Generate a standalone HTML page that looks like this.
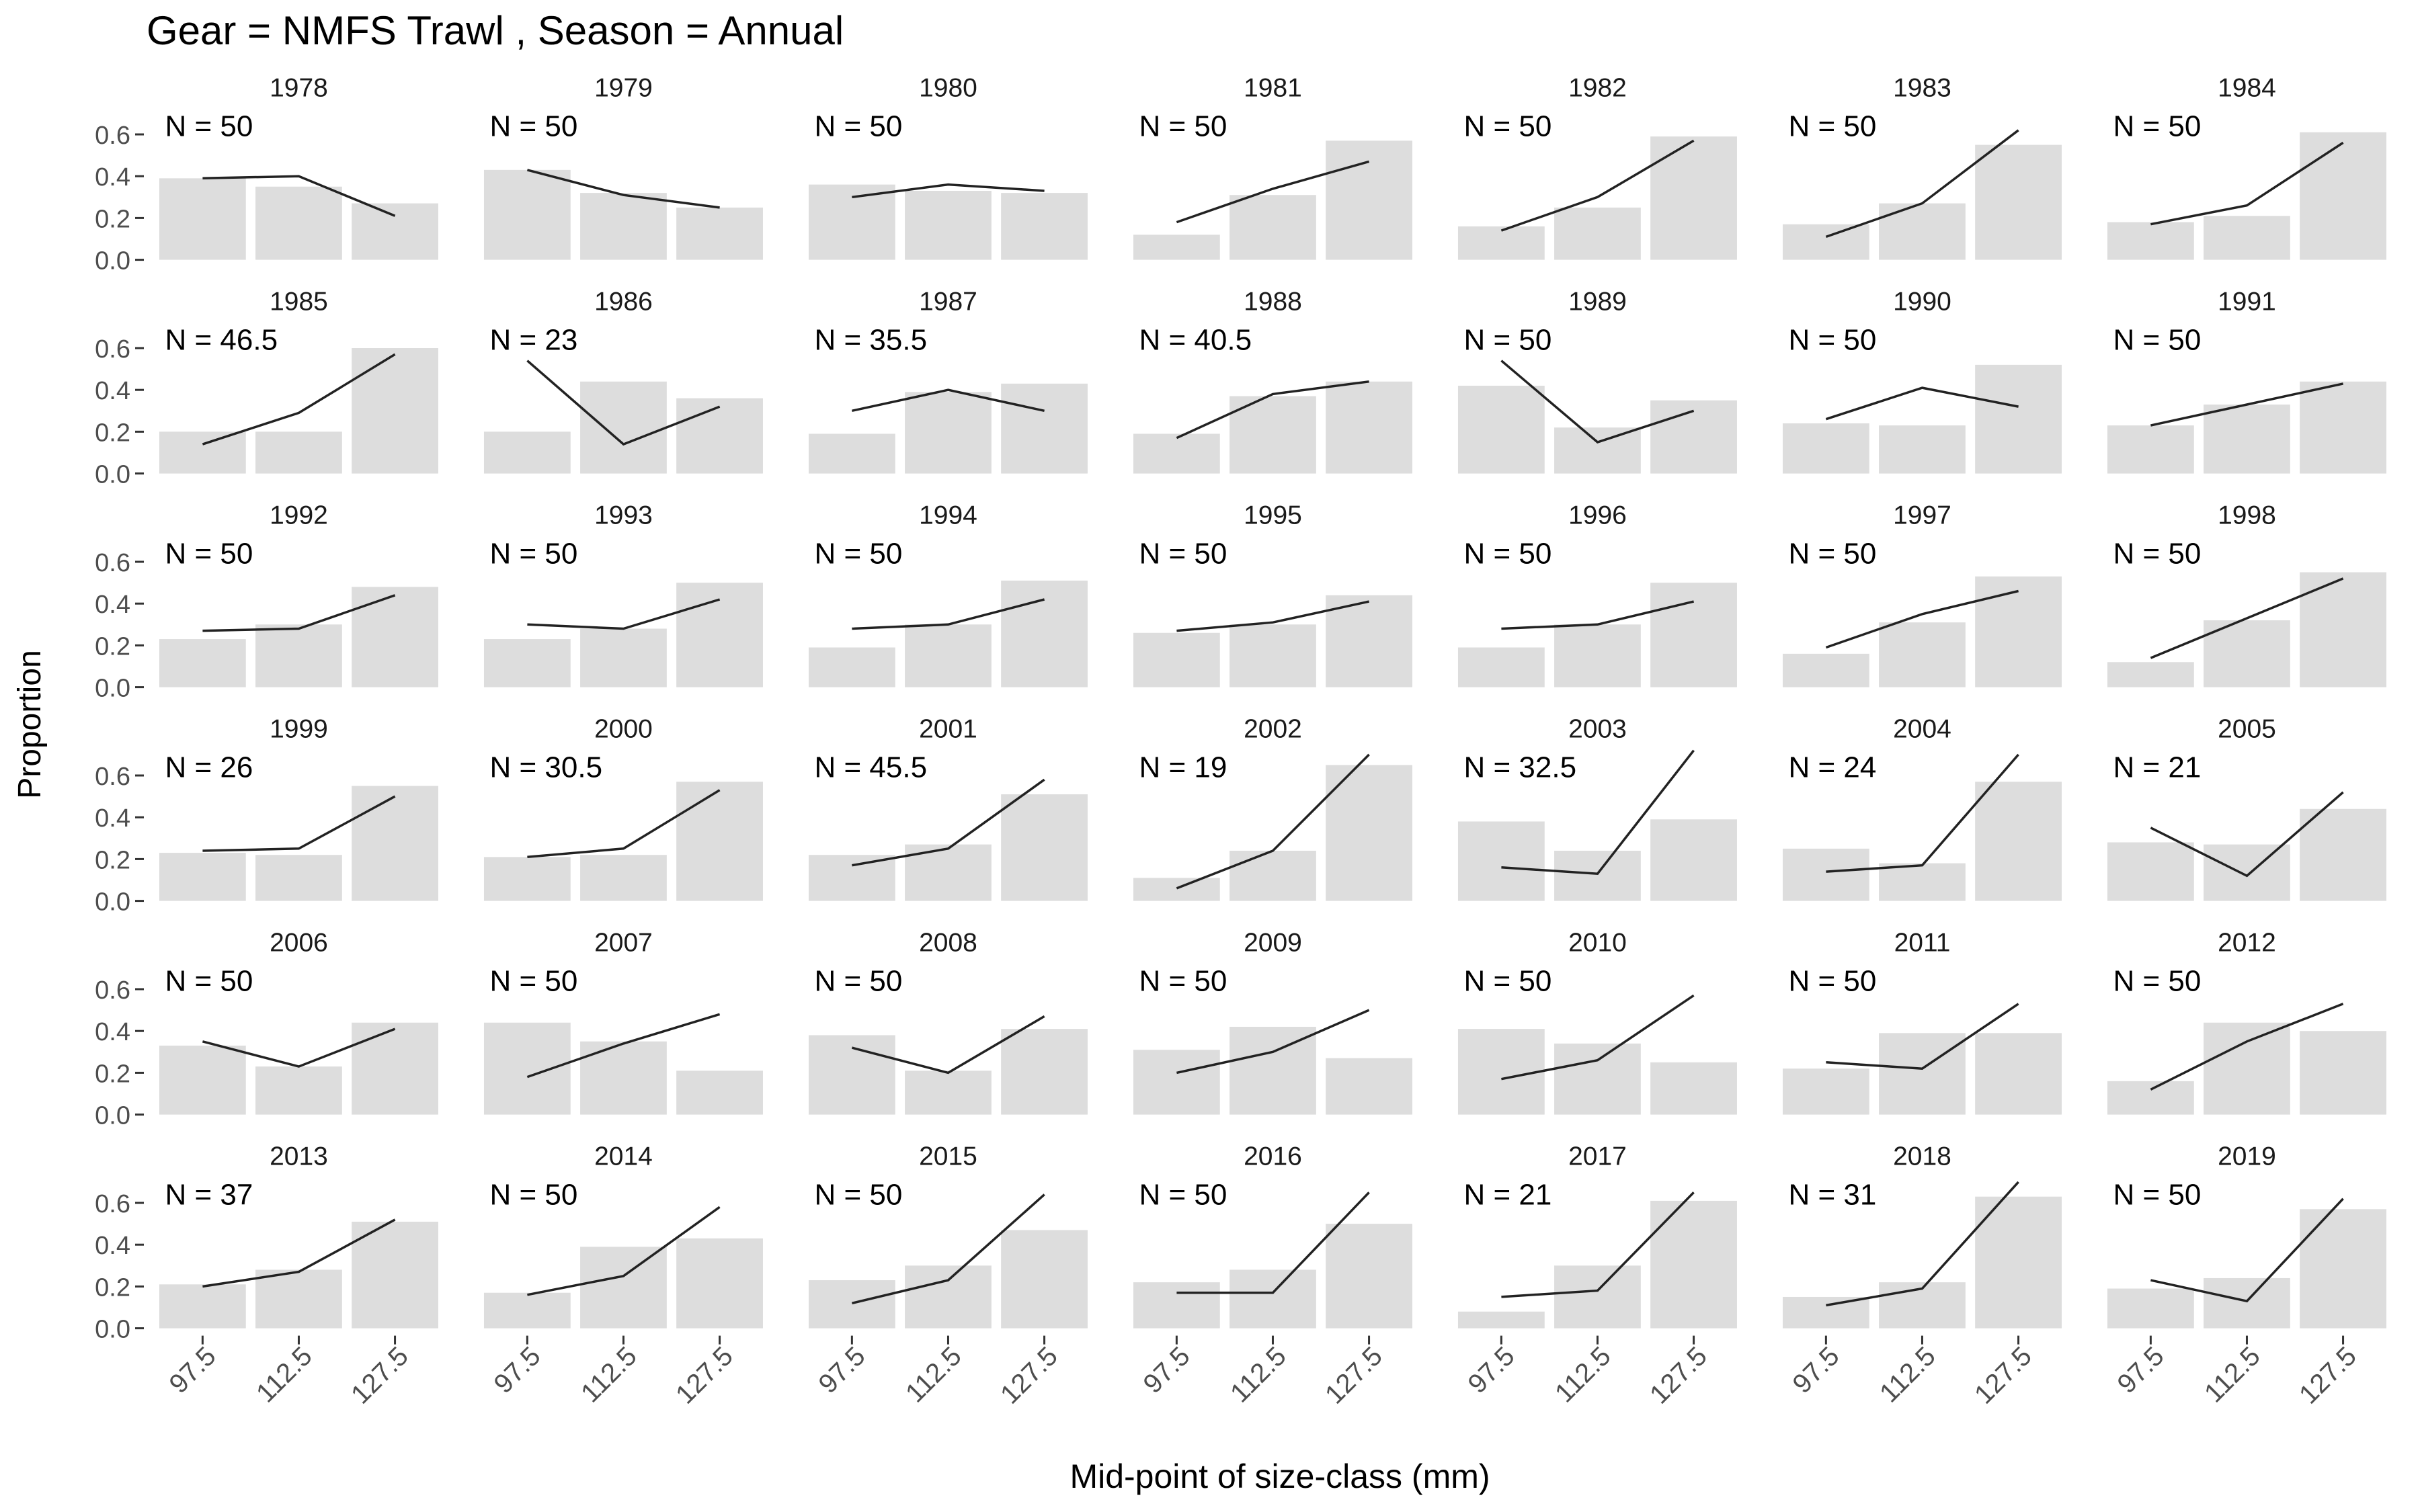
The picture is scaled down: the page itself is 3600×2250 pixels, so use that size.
<!DOCTYPE html>
<html><head><meta charset="utf-8">
<style>
html,body{margin:0;padding:0;background:#fff;}
svg{display:block;font-family:"Liberation Sans",sans-serif;}
</style></head>
<body>
<svg id="chart" width="3600" height="2250" viewBox="0 0 3600 2250">
<text x="218" y="66" font-size="60" fill="#000">Gear = NMFS Trawl , Season = Annual</text>
<text x="1904" y="2214" font-size="50" text-anchor="middle" fill="#000">Mid-point of size-class (mm)</text>
<text x="0" y="0" font-size="48" text-anchor="middle" fill="#000" transform="translate(60,1078) rotate(-90)">Proportion</text>
<g id="panels"></g>
</svg>
<script>
const years = [1978,1979,1980,1981,1982,1983,1984,1985,1986,1987,1988,1989,1990,1991,1992,1993,1994,1995,1996,1997,1998,1999,2000,2001,2002,2003,2004,2005,2006,2007,2008,2009,2010,2011,2012,2013,2014,2015,2016,2017,2018,2019];
const sampleN = ["50","50","50","50","50","50","50","46.5","23","35.5","40.5","50","50","50","50","50","50","50","50","50","50","26","30.5","45.5","19","32.5","24","21","50","50","50","50","50","50","50","37","50","50","50","21","31","50"];
const categories = ["97.5","112.5","127.5"];
const yTicks = [0,0.2,0.4,0.6];
const yTickLabels = ["0.0","0.2","0.4","0.6"];
const observed = [
[0.39,0.35,0.27],[0.43,0.32,0.25],[0.36,0.33,0.32],[0.12,0.31,0.57],[0.16,0.25,0.59],[0.17,0.27,0.55],[0.18,0.21,0.61],
[0.20,0.20,0.60],[0.20,0.44,0.36],[0.19,0.39,0.43],[0.19,0.37,0.44],[0.42,0.22,0.35],[0.24,0.23,0.52],[0.23,0.33,0.44],
[0.23,0.30,0.48],[0.23,0.28,0.50],[0.19,0.30,0.51],[0.26,0.30,0.44],[0.19,0.30,0.50],[0.16,0.31,0.53],[0.12,0.32,0.55],
[0.23,0.22,0.55],[0.21,0.22,0.57],[0.22,0.27,0.51],[0.11,0.24,0.65],[0.38,0.24,0.39],[0.25,0.18,0.57],[0.28,0.27,0.44],
[0.33,0.23,0.44],[0.44,0.35,0.21],[0.38,0.21,0.41],[0.31,0.42,0.27],[0.41,0.34,0.25],[0.22,0.39,0.39],[0.16,0.44,0.40],
[0.21,0.28,0.51],[0.17,0.39,0.43],[0.23,0.30,0.47],[0.22,0.28,0.50],[0.08,0.30,0.61],[0.15,0.22,0.63],[0.19,0.24,0.57]];
const expected = [
[0.39,0.40,0.21],[0.43,0.31,0.25],[0.30,0.36,0.33],[0.18,0.34,0.47],[0.14,0.30,0.57],[0.11,0.27,0.62],[0.17,0.26,0.56],
[0.14,0.29,0.57],[0.54,0.14,0.32],[0.30,0.40,0.30],[0.17,0.38,0.44],[0.54,0.15,0.30],[0.26,0.41,0.32],[0.23,0.33,0.43],
[0.27,0.28,0.44],[0.30,0.28,0.42],[0.28,0.30,0.42],[0.27,0.31,0.41],[0.28,0.30,0.41],[0.19,0.35,0.46],[0.14,0.33,0.52],
[0.24,0.25,0.50],[0.21,0.25,0.53],[0.17,0.25,0.58],[0.06,0.24,0.70],[0.16,0.13,0.72],[0.14,0.17,0.70],[0.35,0.12,0.52],
[0.35,0.23,0.41],[0.18,0.34,0.48],[0.32,0.20,0.47],[0.20,0.30,0.50],[0.17,0.26,0.57],[0.25,0.22,0.53],[0.12,0.35,0.53],
[0.20,0.27,0.52],[0.16,0.25,0.58],[0.12,0.23,0.64],[0.17,0.17,0.65],[0.15,0.18,0.65],[0.11,0.19,0.70],[0.23,0.13,0.62]];

const NS="http://www.w3.org/2000/svg";
const root=document.getElementById('panels');
const UNIT=143.1, PITCH_X=483, LEFT0=215.5, Y0=386.6, PITCH_Y=318, YSCALE=311;
function mk(tag,attrs,parent){const e=document.createElementNS(NS,tag);for(const k in attrs)e.setAttribute(k,attrs[k]);parent.appendChild(e);return e;}
function xScale(col,i){return LEFT0+col*PITCH_X+(i+0.6)*UNIT;}
function yScale(row,v){return Y0+row*PITCH_Y-v*YSCALE;}

years.forEach((yr,p)=>{
  const col=p%7,row=Math.floor(p/7);
  const g=mk('g',{},root);
  
  
  const cx=LEFT0+col*PITCH_X+229;
  const st=mk('text',{x:cx,y:yScale(row,0)-243,'font-size':39,'text-anchor':'middle',fill:'#1a1a1a'},g);
  st.textContent=yr;
  
  
  observed[p].forEach((v,i)=>{
    const xc=xScale(col,i);
    const r=mk('rect',{x:xc-0.45*UNIT,y:yScale(row,v),width:0.9*UNIT,height:v*YSCALE,fill:'#dddddd'},g);
    
    
  });
  const pts=expected[p].map((v,i)=>xScale(col,i).toFixed(1)+','+yScale(row,v).toFixed(1)).join(' ');
  const ln=mk('polyline',{points:pts,fill:'none',stroke:'#222','stroke-width':3.5},g);
  
  
  const nt=mk('text',{x:LEFT0+col*PITCH_X+30,y:yScale(row,0)-184,'font-size':44,fill:'#000'},g);
  nt.textContent='N = '+sampleN[p];
  
  
  if(col===0){
    yTicks.forEach((t,k)=>{
      const yy=yScale(row,t);
      const tk=mk('line',{x1:201,x2:214,y1:yy,y2:yy,stroke:'#333','stroke-width':3},g);
      
      
      const tl=mk('text',{x:194,y:yy+14,'font-size':38,'text-anchor':'end',fill:'#4d4d4d'},g);
      tl.textContent=yTickLabels[k];
      
      
    });
  }
  if(row===5){
    categories.forEach((c,i)=>{
      const xc=xScale(col,i), yb=yScale(row,0);
      const tk=mk('line',{x1:xc,x2:xc,y1:yb+11,y2:yb+24,stroke:'#333','stroke-width':3},g);
      
      
      const tl=mk('text',{x:0,y:0,'font-size':40,'text-anchor':'end',fill:'#4d4d4d',transform:'translate('+(xc+22)+','+(yb+44)+') rotate(-45)'},g);
      tl.textContent=c;
      
      
    });
  }
});
</script>
</body></html>
